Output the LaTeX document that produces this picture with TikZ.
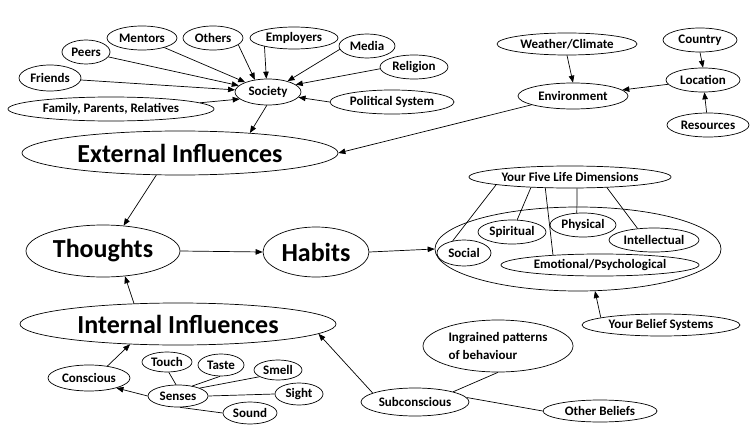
\documentclass[tikz,border=0pt]{standalone}
\usepackage{fontspec}
\setmainfont{Carlito}
\usetikzlibrary{shapes.geometric,arrows.meta}
\begin{document}
\begin{tikzpicture}[x=1pt,y=-1pt,
  el/.style 2 args={ellipse,draw,line width=0.7pt,minimum width=#1pt,minimum height=#2pt,inner sep=0pt,font=\bfseries\fontsize{13}{16}\selectfont},
  bigtext/.style={font=\bfseries\fontsize{26}{30}\selectfont},
  arr/.style={-{Triangle[length=7pt,width=5.5pt]},line width=0.7pt},
  ln/.style={line width=0.7pt}]
\useasboundingbox (0,0) rectangle (755,444);
% Society cluster
\node[el={70}{24}] (mentors) at (142,38) {Mentors};
\node[el={60}{24}] (others) at (213,38) {Others};
\node[el={88}{22}] (employers) at (294,38) {Employers};
\node[el={56}{24}] (media) at (367,46) {Media};
\node[el={48}{24}] (peers) at (86,52) {Peers};
\node[el={68}{24}] (religion) at (414,67) {Religion};
\node[el={62}{26}] (friends) at (50,78) {Friends};
\node[el={66}{26}] (society) at (268,92) {Society};
\node[el={206}{24}] (family) at (111,109) {Family, Parents, Relatives};
\node[el={124}{24}] (political) at (392,102) {Political System};
\node[el={316}{44},bigtext] (ext) at (180,153) {External Influences};
% Environment cluster
\node[el={140}{22}] (weather) at (567,44) {Weather/Climate};
\node[el={74}{24}] (country) at (700,40) {Country};
\node[el={74}{24}] (location) at (703,80) {Location};
\node[el={110}{26}] (env) at (573,96) {Environment};
\node[el={82}{24}] (resources) at (708,125) {Resources};
% Main row
\node[el={154}{52},bigtext] (thoughts) at (103,251) {Thoughts};
\node[el={106}{50},bigtext] (habits) at (316,252) {Habits};
% Life dimensions
\node[el={202}{22}] (fld) at (570,177) {Your Five Life Dimensions};
\node[el={286}{84}] (bigE) at (578,249) {};
\node[el={54}{26}] (social) at (464,253) {Social};
\node[el={68}{24}] (spiritual) at (512,232) {Spiritual};
\node[el={66}{24}] (physical) at (583,225) {Physical};
\node[el={90}{24}] (intellectual) at (654,240) {Intellectual};
\node[el={198}{22}] (emotional) at (600,265) {Emotional/Psychological};
\node[el={158}{22}] (belief) at (661,325) {Your Belief Systems};
% Internal cluster
\node[el={316}{42},bigtext] (internal) at (178,324) {Internal Influences};
\node[el={82}{26}] (conscious) at (89,378) {Conscious};
\node[el={50}{20}] (touch) at (167,362) {Touch};
\node[el={46}{22}] (taste) at (221,365) {Taste};
\node[el={48}{20}] (smell) at (278,370) {Smell};
\node[el={60}{22}] (senses) at (178,396) {Senses};
\node[el={48}{22}] (sight) at (299,394) {Sight};
\node[el={54}{22}] (sound) at (250,413) {Sound};
\node[el={108}{28}] (subcon) at (415,402) {Subconscious};
\node[el={150}{52},align=left] (ingrained) at (498,346) {Ingrained patterns\\[2pt]of behaviour};
\node[el={114}{22}] (other) at (600,411) {Other Beliefs};
% Society arrows
\draw[arr] (mentors) -- (society);
\draw[arr] (others.345) -- (society.137);
\draw[arr] (employers.196) -- (society.97);
\draw[arr] (media.187) -- (society.29);
\draw[arr] (peers) -- (society);
\draw[arr] (religion.183) -- (society.15);
\draw[arr] (friends) -- (society);
\draw[arr] (family.4) -- (society.194);
\draw[arr] (political.west) -- (society.350);
\draw[arr] (society.265) -- (ext.16);
% Environment arrows
\draw[arr] (weather.south) -- (env.north);
\draw[arr] (country.south) -- (location.north);
\draw[arr] (resources) -- (location);
\draw[arr] (location) -- (env);
\draw[arr] (env.192) -- (ext.east);
% Main flow
\draw[arr] (ext.223.5) -- (thoughts.51.5);
\draw[arr] (internal.155) -- (thoughts.311.5);
\draw[arr] (thoughts.east) -- (habits.west);
\draw[arr] (habits.east) -- (bigE.west);
\draw[arr] (belief.173.5) -- (bigE.292);
% Life dimension lines
\draw[ln] (fld.186.6) -- (social.133);
\draw[ln] (fld.195) -- (spiritual.67);
\draw[ln] (fld.204) -- (emotional.168.7);
\draw[ln] (fld.302) -- (physical.117);
\draw[ln] (fld.344) -- (intellectual.145);
% Internal arrows and lines
\draw[arr] (conscious.33) -- (internal.203);
\draw[arr] (senses.west) -- (conscious.340);
\draw[ln] (senses.100) -- (touch.280);
\draw[ln] (senses.35) -- (taste.265);
\draw[ln] (senses.20) -- (smell.200);
\draw[ln] (senses.east) -- (sight.west);
\draw[ln] (senses.280) -- (sound.west);
\draw[arr] (subcon.168) -- (internal.356);
\draw[ln] (subcon.15) -- (ingrained.south);
\draw[ln] (subcon.5) -- (other.west);
\end{tikzpicture}
\end{document}
